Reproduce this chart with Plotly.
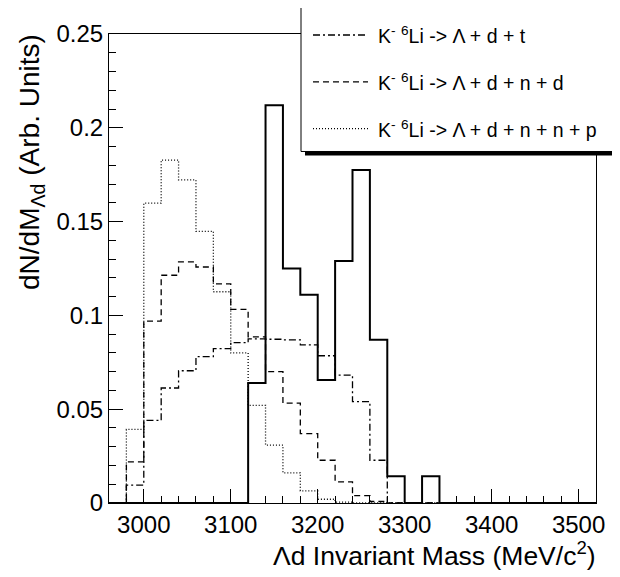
import plotly.graph_objects as go

# ---- data (20 MeV bins, lower edges from 2960 to 3500) ----
bin_edges = list(range(2960, 3540, 20))          # 29 edges -> 28 bins

data_vals = [0, 0, 0, 0, 0, 0, 0, 0,
             0.064, 0.212, 0.125, 0.111, 0.0656, 0.129, 0.1775, 0.087,
             0.0143, 0, 0.0143, 0, 0, 0, 0, 0, 0, 0, 0, 0]

ldt_vals = [0, 0.0095, 0.044, 0.0613, 0.0705, 0.078, 0.0823, 0.0855,
            0.0875, 0.0873, 0.087, 0.0843, 0.0785, 0.0682, 0.054, 0.0228,
            0, 0, 0, 0, 0, 0, 0, 0, 0, 0, 0, 0]

ldnd_vals = [0, 0.0219, 0.097, 0.1214, 0.1285, 0.1258, 0.1168, 0.1032,
             0.0885, 0.0700, 0.0532, 0.0370, 0.0228, 0.0113, 0.0039, 0.0008,
             0, 0, 0, 0, 0, 0, 0, 0, 0, 0, 0, 0]

ldnnp_vals = [0, 0.0392, 0.1598, 0.1828, 0.1722, 0.1448, 0.1126, 0.0800,
              0.0520, 0.0308, 0.0161, 0.0065, 0.0020, 0.0005,
              0, 0, 0, 0, 0, 0, 0, 0, 0, 0, 0, 0, 0, 0]

legend_labels = ["K<sup>-</sup> <sup>6</sup>Li -> Λ + d + t",
                 "K<sup>-</sup> <sup>6</sup>Li -> Λ + d + n + d",
                 "K<sup>-</sup> <sup>6</sup>Li -> Λ + d + n + n + p"]

x_ticks = [3000, 3100, 3200, 3300, 3400, 3500]
y_ticks = [0, 0.05, 0.1, 0.15, 0.2, 0.25]

FONT = "Liberation Sans, Arial, Helvetica, sans-serif"
W, H = 620, 577
OFF = 8  # page body margin offset of the rendered figure
# plot area in screen pixels: x 109..596, y 32..503
ML = 109 - OFF
MT = 32 - OFF
MR = W - (596 - OFF)
MB = H - (503 - OFF)
PW, PH = W - ML - MR, H - MT - MB

DASHDOT = "7px,3px,2px,3px"
DASH = "6px,4px"
DOT = "1px,2px"


def step(vals):
    return list(vals) + [vals[-1]]


fig = go.Figure()
fig.add_trace(go.Scatter(x=bin_edges, y=step(data_vals), mode="lines",
                         line=dict(shape="hv", color="black", width=2),
                         showlegend=False))
fig.add_trace(go.Scatter(x=bin_edges, y=step(ldt_vals), mode="lines",
                         line=dict(shape="hv", color="black", width=1.3, dash=DASHDOT),
                         showlegend=False))
fig.add_trace(go.Scatter(x=bin_edges, y=step(ldnd_vals), mode="lines",
                         line=dict(shape="hv", color="black", width=1.3, dash=DASH),
                         showlegend=False))
fig.add_trace(go.Scatter(x=bin_edges, y=step(ldnnp_vals), mode="lines",
                         line=dict(shape="hv", color="black", width=1.3, dash=DOT),
                         showlegend=False))


def px_x(p):  # screen pixel -> paper x
    return (p - OFF - ML) / PW


def px_y(p):  # screen pixel -> paper y
    return (H - MB - (p - OFF)) / PH


shapes = []
annotations = []
# legend shadow + box
shapes.append(dict(type="rect", xref="paper", yref="paper",
                   x0=px_x(305), x1=px_x(626), y0=px_y(154), y1=px_y(5),
                   fillcolor="black", line=dict(width=0), layer="above"))
shapes.append(dict(type="rect", xref="paper", yref="paper",
                   x0=px_x(301), x1=px_x(618), y0=px_y(150), y1=px_y(1),
                   fillcolor="white", line=dict(color="black", width=1), layer="above"))
for i, (lab, dash) in enumerate(zip(legend_labels, [DASHDOT, DASH, DOT])):
    yy = 33 + 47 * i
    shapes.append(dict(type="line", xref="paper", yref="paper",
                       x0=px_x(313), x1=px_x(368), y0=px_y(yy), y1=px_y(yy),
                       line=dict(color="black", width=1.3, dash=dash), layer="above"))
    annotations.append(dict(text=lab, xref="paper", yref="paper",
                            x=px_x(376), y=px_y(yy), xanchor="left", yanchor="middle",
                            showarrow=False, font=dict(family=FONT, size=19.5, color="black")))

annotations.append(dict(text="Λd Invariant Mass (MeV/c<sup>2</sup>)", xref="paper", yref="paper",
                        x=px_x(598), y=px_y(554), xanchor="right", yanchor="middle",
                        showarrow=False, font=dict(family=FONT, size=26.5, color="black")))
annotations.append(dict(text="dN/dM<sub>Λd</sub> (Arb. Units)", xref="paper", yref="paper",
                        x=px_x(31), y=px_y(30), xanchor="center", yanchor="top", textangle=-90,
                        showarrow=False, font=dict(family=FONT, size=28, color="black")))

fig.update_layout(
    width=W, height=H,
    margin=dict(l=ML, r=MR, t=MT, b=MB),
    paper_bgcolor="white", plot_bgcolor="white",
    font=dict(family=FONT, size=24, color="black"),
    shapes=shapes, annotations=annotations,
    showlegend=False,
)
fig.update_xaxes(range=[2960, 3520], tickvals=x_ticks, ticks="inside", ticklen=14,
                 tickcolor="black", tickwidth=1,
                 minor=dict(dtick=20, tick0=3000, ticks="inside", ticklen=7, tickcolor="black"),
                 showline=True, linecolor="black", linewidth=1, mirror=True,
                 showgrid=False, zeroline=False, tickfont=dict(size=24))
fig.update_yaxes(range=[0, 0.25], tickvals=y_ticks, ticks="inside", ticklen=14,
                 tickcolor="black", tickwidth=1,
                 minor=dict(dtick=0.01, tick0=0, ticks="inside", ticklen=7, tickcolor="black"),
                 showline=True, linecolor="black", linewidth=1, mirror=True,
                 showgrid=False, zeroline=False, tickfont=dict(size=24))

fig.write_html("out.html")
